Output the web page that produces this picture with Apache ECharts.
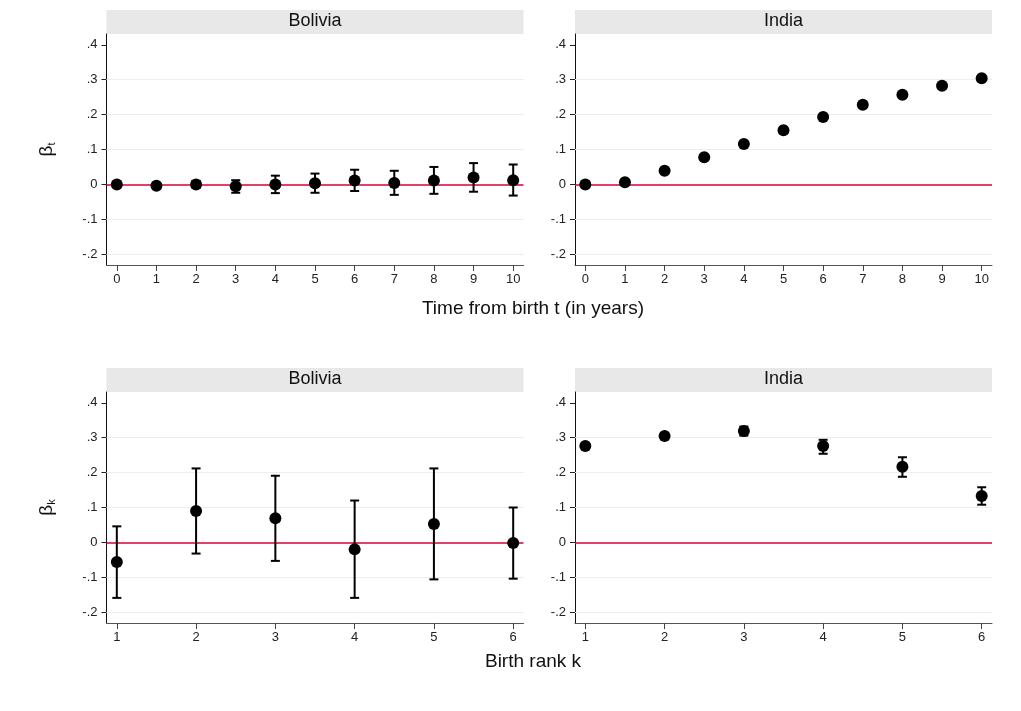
<!DOCTYPE html>
<html>
<head>
<meta charset="utf-8">
<script src="https://cdn.jsdelivr.net/npm/echarts@6/dist/echarts.min.js"></script>
<style>
html,body{margin:0;padding:0;background:#fff;}
#chart{width:1021px;height:711px;}
</style>
</head>
<body>
<div id="chart"></div>
<script>
// ---------- data ----------
var tYears = [0, 1, 2, 3, 4, 5, 6, 7, 8, 9, 10];
var boliviaT   = [0.000, -0.004, 0.000, -0.005, 0.000, 0.003, 0.011, 0.004, 0.011, 0.020, 0.012];
var boliviaTLo = [-0.003, -0.007, -0.010, -0.024, -0.025, -0.024, -0.019, -0.030, -0.027, -0.021, -0.032];
var boliviaTHi = [0.003, -0.001, 0.010, 0.012, 0.025, 0.031, 0.042, 0.039, 0.050, 0.061, 0.057];
var indiaT   = [0.000, 0.006, 0.039, 0.078, 0.116, 0.155, 0.193, 0.228, 0.257, 0.283, 0.304];
var indiaTLo = [-0.002, 0.003, 0.036, 0.075, 0.113, 0.152, 0.190, 0.225, 0.254, 0.280, 0.301];
var indiaTHi = [0.002, 0.009, 0.042, 0.081, 0.119, 0.158, 0.196, 0.231, 0.260, 0.286, 0.307];

var ranks = [1, 2, 3, 4, 5, 6];
var boliviaK   = [-0.056, 0.090, 0.069, -0.020, 0.053, -0.002];
var boliviaKLo = [-0.159, -0.032, -0.053, -0.159, -0.106, -0.104];
var boliviaKHi = [0.046, 0.212, 0.191, 0.120, 0.212, 0.100];
var indiaK   = [0.276, 0.305, 0.319, 0.276, 0.217, 0.133];
var indiaKLo = [0.268, 0.297, 0.306, 0.254, 0.188, 0.108];
var indiaKHi = [0.284, 0.313, 0.332, 0.294, 0.244, 0.158];

var yTicks = [-0.2, -0.1, 0, 0.1, 0.2, 0.3, 0.4];
var panelTitles = ['Bolivia', 'India', 'Bolivia', 'India'];
var xTitles = ['Time from birth t (in years)', 'Birth rank k'];

// ---------- layout ----------
var FONT = '"Liberation Sans", Arial, Helvetica, sans-serif';
var grids = [
  {left: 106.5, top: 34, width: 417, height: 231},
  {left: 575,   top: 34, width: 417, height: 231},
  {left: 106.5, top: 392, width: 417, height: 231},
  {left: 575,   top: 392, width: 417, height: 231}
];
var panels = [
  {x: tYears, y: boliviaT, lo: boliviaTLo, hi: boliviaTHi, min: -0.26, max: 10.26, sub: 't', showName: true},
  {x: tYears, y: indiaT, lo: indiaTLo, hi: indiaTHi, min: -0.26, max: 10.26, sub: 't', showName: false},
  {x: ranks, y: boliviaK, lo: boliviaKLo, hi: boliviaKHi, min: 0.87, max: 6.13, sub: 'k', showName: true},
  {x: ranks, y: indiaK, lo: indiaKLo, hi: indiaKHi, min: 0.87, max: 6.13, sub: 'k', showName: false}
];

function fmtY(v) {
  if (Math.abs(v) < 1e-9) return '0';
  var s = Math.abs(v).toFixed(1).replace(/^0/, '');
  return (v < 0 ? '-' : '') + s;
}

var xAxes = [], yAxes = [], series = [], graphics = [];
panels.forEach(function (p, i) {
  xAxes.push({
    gridIndex: i, type: 'value', min: p.min, max: p.max,
    axisLine: {show: true, onZero: false, lineStyle: {color: '#555', width: 1}},
    axisTick: {show: true, length: 6, customValues: p.x, lineStyle: {color: '#444', width: 1}},
    axisLabel: {show: true, customValues: p.x, fontSize: 13, color: '#222', fontFamily: FONT, margin: 8},
    splitLine: {show: false}
  });
  yAxes.push({
    gridIndex: i, type: 'value', min: -0.231, max: 0.431,
    name: p.showName ? '{a|β}{b|' + p.sub + '}' : '',
    nameLocation: 'middle', nameGap: 49, nameRotate: 90,
    nameTextStyle: {
      fontFamily: FONT, color: '#111',
      rich: {
        a: {fontSize: 19, lineHeight: 22, fontFamily: FONT, color: '#111'},
        b: {fontSize: 11, lineHeight: 12, verticalAlign: 'bottom', fontFamily: FONT, color: '#111'}
      }
    },
    axisLine: {show: true, onZero: false, lineStyle: {color: '#111', width: 1}},
    axisTick: {show: true, length: 5, customValues: yTicks, lineStyle: {color: '#222', width: 1}},
    axisLabel: {show: true, customValues: yTicks, fontSize: 13, color: '#222', fontFamily: FONT, margin: 9, formatter: fmtY},
    splitLine: {show: false}
  });
  // gridlines + zero reference line
  series.push({
    type: 'line', xAxisIndex: i, yAxisIndex: i, data: [], z: 1, silent: true,
    markLine: {
      z: 1, silent: true, symbol: 'none', animation: false,
      label: {show: false},
      lineStyle: {color: '#e8eef1', type: 'solid', width: 1},
      data: yTicks.filter(function (v) { return v < 0.35; }).map(function (v) {
        return Math.abs(v) < 1e-9
          ? {yAxis: v, lineStyle: {color: '#d8003a', type: 'solid', width: 1.5}}
          : {yAxis: v};
      })
    }
  });
  // error bars
  series.push({
    type: 'custom', xAxisIndex: i, yAxisIndex: i, z: 3, silent: true,
    data: p.x.map(function (xv, j) { return [xv, p.lo[j], p.hi[j]]; }),
    encode: {x: 0, y: [1, 2]},
    renderItem: function (params, api) {
      var xv = api.value(0);
      var a = api.coord([xv, api.value(1)]);
      var b = api.coord([xv, api.value(2)]);
      var hw = 4.5;
      var st = {stroke: '#000', lineWidth: 2};
      return {
        type: 'group',
        children: [
          {type: 'line', shape: {x1: a[0], y1: a[1], x2: b[0], y2: b[1]}, style: st},
          {type: 'line', shape: {x1: a[0] - hw, y1: a[1], x2: a[0] + hw, y2: a[1]}, style: st},
          {type: 'line', shape: {x1: b[0] - hw, y1: b[1], x2: b[0] + hw, y2: b[1]}, style: st}
        ]
      };
    }
  });
  // point estimates
  series.push({
    type: 'scatter', xAxisIndex: i, yAxisIndex: i, z: 4, silent: true,
    symbol: 'circle', symbolSize: 12,
    itemStyle: {color: '#000', opacity: 1},
    data: p.x.map(function (xv, j) { return [xv, p.y[j]]; })
  });
  // panel header strip
  var g = grids[i];
  graphics.push({
    type: 'rect', z: 0, silent: true,
    shape: {x: g.left, y: g.top - 24, width: g.width, height: 24},
    style: {fill: '#e8e8e8'}
  });
  graphics.push({
    type: 'text', z: 1, silent: true,
    x: g.left + g.width / 2, y: g.top - 13,
    style: {text: panelTitles[i], fill: '#111', font: '18px ' + FONT, align: 'center', verticalAlign: 'middle'}
  });
});

graphics.push({
  type: 'text', silent: true, x: 533, y: 309,
  style: {text: xTitles[0], fill: '#111', font: '19px ' + FONT, align: 'center', verticalAlign: 'middle'}
});
graphics.push({
  type: 'text', silent: true, x: 533, y: 662,
  style: {text: xTitles[1], fill: '#111', font: '19px ' + FONT, align: 'center', verticalAlign: 'middle'}
});

var chart = echarts.init(document.getElementById('chart'), null, {renderer: 'canvas'});
chart.setOption({
  backgroundColor: '#ffffff',
  animation: false,
  grid: grids,
  xAxis: xAxes,
  yAxis: yAxes,
  series: series,
  graphic: graphics
});
</script>
</body>
</html>
